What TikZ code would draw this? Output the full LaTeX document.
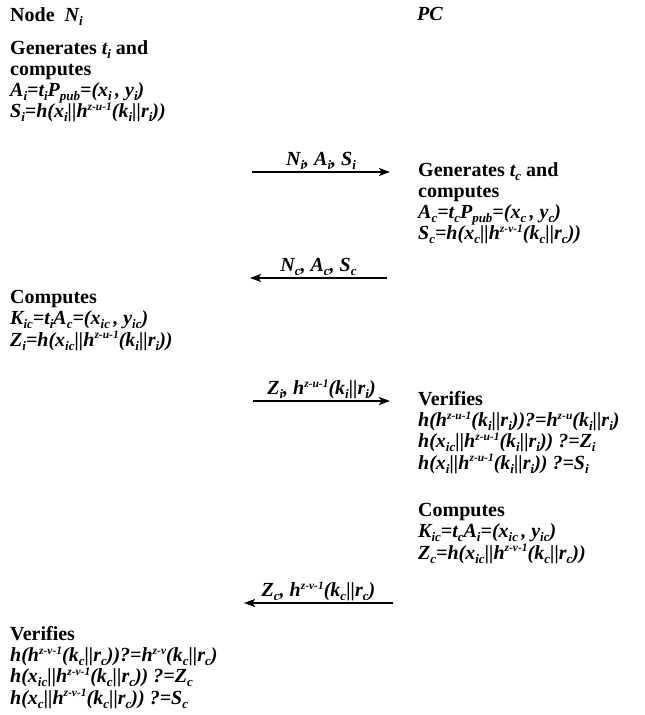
\documentclass[tikz,border=0pt]{standalone}
\usepackage{fontspec}
\setmainfont{Liberation Serif}
\usetikzlibrary{arrows.meta}
\newcommand{\sbs}[1]{\raisebox{-0.2em}{\fontsize{13}{13}\selectfont #1}}
\newcommand{\sps}[1]{\raisebox{0.36em}{\fontsize{11.5}{12}\selectfont #1}}
\newcommand{\msgfont}{\fontsize{20}{21.3}\selectfont\bfseries\lineskiplimit=-20pt\relax}

\begin{document}
\begin{tikzpicture}[x=1pt, y=-1pt,
    txt/.style={anchor=north west, align=left, inner sep=0pt, font=\msgfont},
    msg/.style={line width=1.8pt, -{Stealth[length=11pt, width=8pt, inset=2.5pt]}},
    lbl/.style={above, inner sep=1.5pt, font=\msgfont\itshape}]
  \useasboundingbox (0,0) rectangle (645,715);
  % the two parties
  \node[txt] (node) at (10,7) {Node\ \ \textit{N\sbs{i}}};
  \node[txt] (pc) at (417,7) {\textit{PC}};
  % node N_i starts
  \node[txt] (gen-i) at (10,40) {Generates \textit{t\sbs{i}} and\\computes\\
    \textit{A\sbs{i}=t\sbs{i}P\sbs{pub}=(x\sbs{i}\,, y\sbs{i})}\\
    \textit{S\sbs{i}=h(x\sbs{i}||h\sps{z-u-1}(k\sbs{i}||r\sbs{i}))}};
  \coordinate (m1s) at (252,172); \coordinate (m1e) at (390,172);
  \draw[msg] (m1s) -- node[lbl] {N\sbs{i}, A\sbs{i}, S\sbs{i}} (m1e);
  % PC answers
  \node[txt] (gen-c) at (418,162) {Generates \textit{t\sbs{c}} and\\computes\\
    \textit{A\sbs{c}=t\sbs{c}P\sbs{pub}=(x\sbs{c}\,, y\sbs{c})}\\
    \textit{S\sbs{c}=h(x\sbs{c}||h\sps{z-v-1}(k\sbs{c}||r\sbs{c}))}};
  \coordinate (m2s) at (387,278); \coordinate (m2e) at (250,278);
  \draw[msg] (m2s) -- node[lbl] {N\sbs{c}, A\sbs{c}, S\sbs{c}} (m2e);
  % key on the node side
  \node[txt] (comp-i) at (10,290) {Computes\\
    \textit{K\sbs{ic}=t\sbs{i}A\sbs{c}=(x\sbs{ic}\,, y\sbs{ic})}\\
    \textit{Z\sbs{i}=h(x\sbs{ic}||h\sps{z-u-1}(k\sbs{i}||r\sbs{i}))}};
  \coordinate (m3s) at (253,401); \coordinate (m3e) at (390,401);
  \draw[msg] (m3s) -- node[lbl] {Z\sbs{i}, h\sps{z-u-1}(k\sbs{i}||r\sbs{i})} (m3e);
  % PC checks and computes
  \node[txt] (ver-c) at (418,391) {Verifies\\
    \textit{h(h\sps{z-u-1}(k\sbs{i}||r\sbs{i}))?=h\sps{z-u}(k\sbs{i}||r\sbs{i})}\\
    \textit{h(x\sbs{ic}||h\sps{z-u-1}(k\sbs{i}||r\sbs{i})) ?=Z\sbs{i}}\\
    \textit{h(x\sbs{i}||h\sps{z-u-1}(k\sbs{i}||r\sbs{i})) ?=S\sbs{i}}};
  \node[txt] (comp-c) at (418,503) {Computes\\
    \textit{K\sbs{ic}=t\sbs{c}A\sbs{i}=(x\sbs{ic}\,, y\sbs{ic})}\\
    \textit{Z\sbs{c}=h(x\sbs{ic}||h\sps{z-v-1}(k\sbs{c}||r\sbs{c}))}};
  \coordinate (m4s) at (393,603); \coordinate (m4e) at (244,603);
  \draw[msg] (m4s) -- node[lbl] {Z\sbs{c}, h\sps{z-v-1}(k\sbs{c}||r\sbs{c})} (m4e);
  % node checks
  \node[txt] (ver-i) at (10,626) {Verifies\\
    \textit{h(h\sps{z-v-1}(k\sbs{c}||r\sbs{c}))?=h\sps{z-v}(k\sbs{c}||r\sbs{c})}\\
    \textit{h(x\sbs{ic}||h\sps{z-v-1}(k\sbs{c}||r\sbs{c})) ?=Z\sbs{c}}\\
    \textit{h(x\sbs{c}||h\sps{z-v-1}(k\sbs{c}||r\sbs{c})) ?=S\sbs{c}}};
\end{tikzpicture}
\end{document}
